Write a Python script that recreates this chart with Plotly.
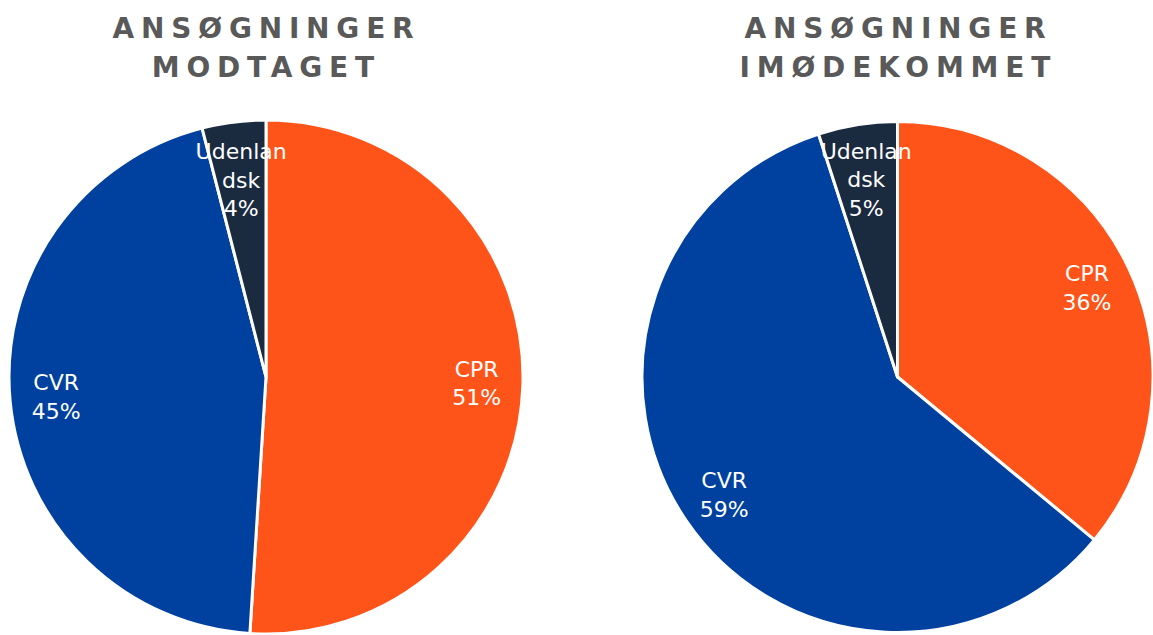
import plotly.graph_objects as go

labels = ["CPR", "CVR", "Udenlandsk"]
text_labels = ["CPR", "CVR", "Udenlan<br>dsk"]
modtaget = [51, 45, 4]
imoedekommet = [36, 59, 5]
title_lines = [["ANSØGNINGER", "MODTAGET"], ["ANSØGNINGER", "IMØDEKOMMET"]]
colors = ["#FF5419", "#0041A0", "#1A2B3F"]

W, H = 1153, 635
TPL = "%{text}<br>%{percent:.0%}"

fig = go.Figure()

def domain_for(cx, r, cy):
    half_w = min(r, cx, W - cx)
    ymid = (H - cy) / H
    half_h = min(r / H, ymid)
    return dict(x=[(cx - half_w) / W, (cx + half_w) / W], y=[ymid - half_h, ymid + half_h])

def add_pie(values, cx, r, cy, small_inset):
    dom = domain_for(cx, r, cy)
    common = dict(labels=labels, values=values, sort=False, direction="clockwise",
                  rotation=0, showlegend=False)
    # filled slices
    fig.add_trace(go.Pie(
        **common, textinfo="none",
        marker=dict(colors=colors, line=dict(color="white", width=3)),
        domain=dom, hoverinfo="label+percent",
    ))
    # transparent ring carrying the large-slice labels near the rim
    fig.add_trace(go.Pie(
        **common, hole=0.64, text=text_labels,
        texttemplate=[TPL, TPL, ""],
        textposition="inside", insidetextorientation="horizontal",
        marker=dict(colors=["rgba(0,0,0,0)"] * 3, line=dict(width=0)),
        textfont=dict(family="DejaVu Sans", size=22, color="white"),
        domain=dom, hoverinfo="skip",
    ))
    # smaller transparent pie carrying the small-slice label a bit inward
    fig.add_trace(go.Pie(
        **common, text=text_labels,
        texttemplate=["", "", TPL],
        textposition="inside", insidetextorientation="horizontal",
        marker=dict(colors=["rgba(0,0,0,0)"] * 3, line=dict(width=0)),
        textfont=dict(family="DejaVu Sans", size=22, color="white"),
        domain=domain_for(cx, r - small_inset, cy), hoverinfo="skip",
    ))

add_pie(modtaget, 266, 257, 377, 34)
add_pie(imoedekommet, 897.5, 256, 377, 25)

for lines, cx in zip(title_lines, [266, 898]):
    for line, cy in zip(lines, [28, 67]):
        fig.add_annotation(
            text=line, x=cx / W, y=1 - cy / H, xref="paper", yref="paper",
            showarrow=False, xanchor="center", yanchor="middle",
            font=dict(family="DejaVu Sans", size=28, color="#595959", weight="bold"),
        )

fig.update_layout(
    width=W, height=H,
    margin=dict(l=0, r=0, t=0, b=0),
    paper_bgcolor="white",
    plot_bgcolor="white",
    uniformtext=dict(minsize=22, mode="show"),
)

post = """
document.body.style.margin = '0';
var s = document.createElement('style');
s.innerHTML = 'body{margin:0;overflow:hidden;} .annotation-text{letter-spacing:6.8px;}';
document.head.appendChild(s);
"""
fig.write_html("out.html", post_script=post, config={"displayModeBar": False})
